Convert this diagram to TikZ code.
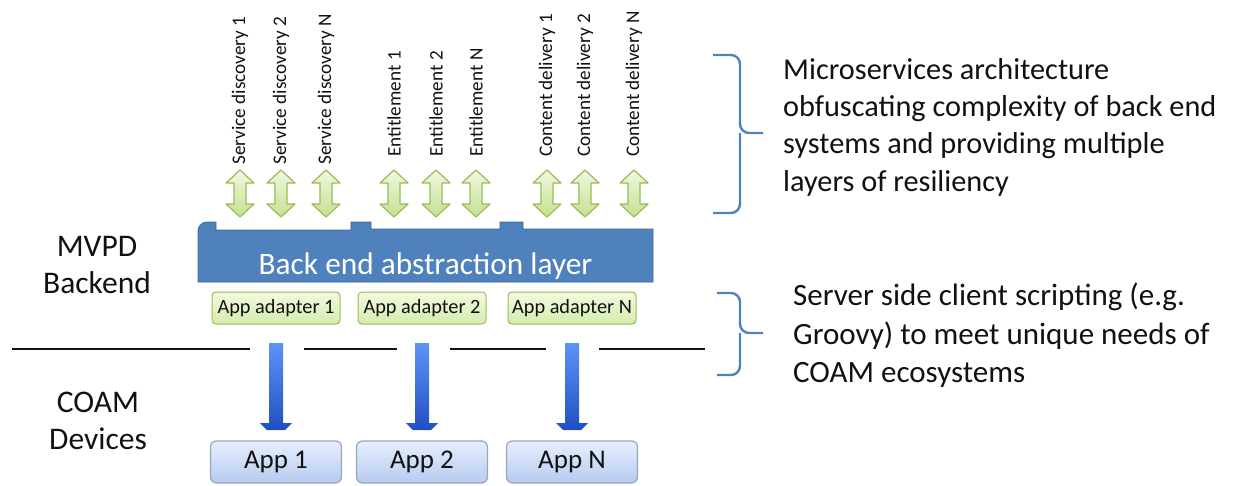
\documentclass[tikz,border=0pt]{standalone}
\usepackage{fontspec}
\setmainfont{Carlito}
\definecolor{layerblue}{HTML}{4F81BD}
\definecolor{layerdark}{HTML}{3B659C}
\definecolor{adgreen}{HTML}{9BBB59}
\definecolor{adtop}{HTML}{F3FADF}
\definecolor{adbot}{HTML}{D4EBAE}
\definecolor{arrtop}{HTML}{F0F8E0}
\definecolor{arrbot}{HTML}{C4E091}
\definecolor{apptop}{HTML}{E6EEFC}
\definecolor{appbot}{HTML}{B7CBF0}
\definecolor{appedge}{HTML}{95A6C2}
\definecolor{dntop}{HTML}{5F93F7}
\definecolor{dnbot}{HTML}{2050C0}
\definecolor{ink}{HTML}{111111}
\tikzset{
  svclabel/.style={rotate=90,anchor=west,inner sep=0pt,text=ink,font=\fontsize{19.2}{22}\selectfont},
  updown/.style={draw=adgreen,line width=1.2pt,line join=round,top color=arrtop,bottom color=arrbot},
  adapter/.style={draw=adgreen,line width=1pt,rounded corners=4pt,top color=adtop,bottom color=adbot,
    minimum width=128pt,minimum height=32pt,inner sep=0pt,text=ink,font=\fontsize{20.3}{22}\selectfont},
  appbox/.style={draw=appedge,line width=1.2pt,rounded corners=6pt,top color=apptop,bottom color=appbot,
    minimum width=131pt,minimum height=42pt,inner sep=0pt,text=ink,font=\fontsize{27}{30}\selectfont},
  downarrow/.style={top color=dntop,bottom color=dnbot},
  sidetext/.style={inner sep=0pt,text=ink,align=center,font=\fontsize{31.5}{37}\selectfont},
  note/.style={inner sep=0pt,anchor=north west,text=ink,align=left},
  bracket/.style={draw=layerblue,line width=2.4pt,rounded corners=9pt},
}
\begin{document}
\begin{tikzpicture}[x=1pt,y=-1pt]
\useasboundingbox (0,0) rectangle (1238,485);

\filldraw[fill=layerblue,draw=layerdark,line width=0.8pt]
  (198,282) [rounded corners=9pt] -- (198,222) [sharp corners] -- (216,222) -- (216,230) -- (351,230) -- (351,222)
  -- (371,222) -- (371,229) -- (500,229) -- (500,222) -- (523,222) -- (523,229) -- (653,229)
  -- (653,282) -- cycle;
\node[text=white,inner sep=0pt,font=\fontsize{31.3}{34}\selectfont] (layer) at (425.5,266) {Back end abstraction layer};

\foreach \x/\t/\yb [count=\i] in {240/Service discovery 1/165, 281/Service discovery 2/165,
    326/Service discovery N/165, 394/Entitlement 1/157, 436/Entitlement 2/157,
    476/Entitlement N/157, 547/Content delivery 1/157, 585/Content delivery 2/157,
    634/Content delivery N/157}{
  \node[svclabel] (svc\i) at (\x,\yb) {\t};
  \path[updown] (\x,170) -- ({\x+14},183) -- ({\x+6},183) -- ({\x+6},204) -- ({\x+14},204)
    -- (\x,217) -- ({\x-14},204) -- ({\x-6},204) -- ({\x-6},183) -- ({\x-14},183) -- cycle;
}

\foreach \x/\n in {276/1,422/2,572/N}{
  \node[adapter] (ad\n) at (\x,308) {App adapter \n};
  \node[appbox] (app\n) at (\x,462) {App \n};
  \path[downarrow] ({\x-7},343) -- ({\x+7},343) -- ({\x+7},423) -- ({\x+16},423) -- ({\x+9},430)
    -- ({\x-9},430) -- ({\x-16},423) -- ({\x-7},423) -- cycle;
}

\draw[line width=1.3pt,ink] (12,349) -- (250,349) (304,349) -- (397,349)
  (450,349) -- (546,349) (599,349) -- (705,349);

\node[sidetext] (mvpd) at (97,265) {MVPD\\Backend};
\node[sidetext] (coam) at (98,421) {COAM\\Devices};

\draw[bracket] (713,55) -| (740,133) -- (763,133);
\draw[bracket] (713,213) -| (740,133);
\draw[bracket] (717,293) -| (740,333) -- (763,333);
\draw[bracket] (717,375) -| (740,333);

\node[note,font=\fontsize{30.3}{37.3}\selectfont] (micro) at (783,58) {Microservices architecture\\obfuscating complexity of back end\\systems and providing multiple\\layers of resiliency};
\node[note,font=\fontsize{31}{38.5}\selectfont] (groovy) at (793,283) {Server side client scripting (e.g.\\Groovy) to meet unique needs of\\COAM ecosystems};
\end{tikzpicture}
\end{document}
